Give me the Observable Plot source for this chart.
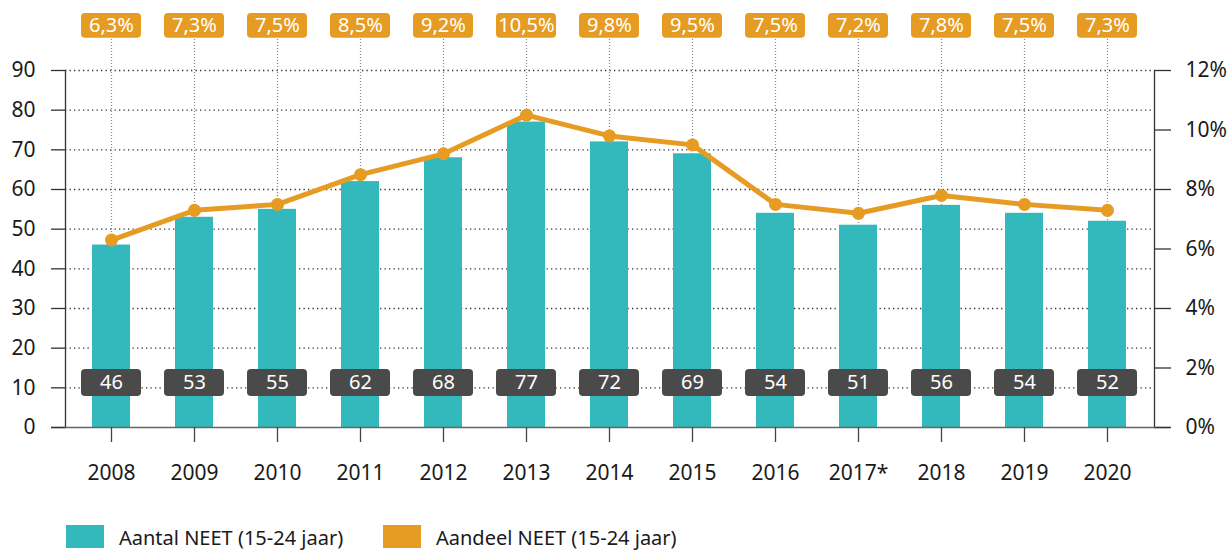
<!DOCTYPE html>
<html>
<head>
<meta charset="utf-8">
<script src="https://cdn.jsdelivr.net/npm/d3@7"></script>
<script src="https://cdn.jsdelivr.net/npm/@observablehq/plot@0.6"></script>
<style>
  html, body { margin: 0; padding: 0; background: #fff; }
  #wrap { position: relative; width: 1227px; height: 554px; overflow: hidden; font-family: "Noto Sans", sans-serif; }
  .sw { position: absolute; width: 38px; height: 23px; }
  .lt { position: absolute; font-size: 20px; color: #1a1a1a; white-space: nowrap; line-height: normal; }
</style>
</head>
<body>
<div id="wrap"></div>
<script>
const years = ["2008","2009","2010","2011","2012","2013","2014","2015","2016","2017*","2018","2019","2020"];
const counts = [46, 53, 55, 62, 68, 77, 72, 69, 54, 51, 56, 54, 52];
const shares = [6.3, 7.3, 7.5, 8.5, 9.2, 10.5, 9.8, 9.5, 7.5, 7.2, 7.8, 7.5, 7.3];
const leftTicks = [0, 10, 20, 30, 40, 50, 60, 70, 80, 90];
const rightTicks = [0, 2, 4, 6, 8, 10, 12];
const seriesNames = ["Aantal NEET (15-24 jaar)", "Aandeel NEET (15-24 jaar)"];

const teal = "#33b8bc";
const orange = "#e69b22";
const dark = "#4a4a4a";
const k = 90 / 12; // share (%) -> left-axis units

const data = years.map((year, i) => ({year, count: counts[i], share: shares[i]}));

const chart = Plot.plot({
  width: 1227,
  height: 505,
  marginTop: 70,
  marginBottom: 78,
  marginLeft: 65,
  marginRight: 73,
  style: {fontFamily: "Noto Sans, sans-serif", color: "#1a1a1a", background: "#fff"},
  x: {type: "band", domain: years, paddingInner: 0.54, paddingOuter: 0.31, label: null},
  y: {domain: [0, 90], label: null},
  marks: [
    Plot.ruleY(leftTicks.filter(d => d > 0), {stroke: "#333", strokeDasharray: "1.3,3.2", strokeWidth: 1.3}),
    Plot.ruleX(data, {x: "year", y1: () => 0, y2: () => 98.1, stroke: "#888", strokeDasharray: "1,2", strokeWidth: 1.2}),
    Plot.barY(data, {x: "year", y: "count", fill: teal}),
    Plot.line(data, {x: "year", y: d => d.share * k, stroke: orange, strokeWidth: 5, strokeLinejoin: "round"}),
    Plot.dot(data, {x: "year", y: d => d.share * k, r: 6.5, fill: orange}),
    Plot.barY(data, {x: "year", y1: () => 98.1, y2: () => 104.4, fill: orange, rx: 4, insetLeft: -11, insetRight: -11}),
    Plot.text(data, {x: "year", y: () => 101.3, text: d => d.share.toFixed(1).replace(".", ",") + "%", fill: "#fff", fontSize: 20}),
    Plot.barY(data, {x: "year", y1: () => 7.8, y2: () => 14.6, fill: dark, rx: 4, insetLeft: -11, insetRight: -11}),
    Plot.text(data, {x: "year", y: () => 11.2, text: d => String(d.count), fill: "#fff", fontSize: 20}),
    Plot.frame({anchor: "left", stroke: "#333", strokeWidth: 1.3}),
    Plot.frame({anchor: "right", stroke: "#333", strokeWidth: 1.3}),
    Plot.ruleY([0], {stroke: "#666", strokeWidth: 1.6, insetLeft: -14, insetRight: -16}),
    Plot.axisY({anchor: "left", ticks: leftTicks, tickSize: 14, tickPadding: 16, fontSize: 21, stroke: "#333", strokeWidth: 1.3, label: null}),
    Plot.axisY({anchor: "right", ticks: rightTicks.map(d => d * k), tickFormat: d => Math.round(d / k) + "%", tickSize: 16, tickPadding: 15, fontSize: 21, stroke: "#333", strokeWidth: 1.3, label: null}),
    Plot.axisX({anchor: "bottom", tickSize: 15, tickPadding: 23, fontSize: 21, stroke: "#444", strokeWidth: 1.3, label: null})
  ]
});

const wrap = document.getElementById("wrap");
wrap.appendChild(chart);

const legendItems = [
  {name: seriesNames[0], color: teal, left: 66},
  {name: seriesNames[1], color: orange, left: 383}
];
for (const it of legendItems) {
  const sw = document.createElement("div");
  sw.className = "sw";
  sw.style.left = it.left + "px";
  sw.style.top = "525px";
  sw.style.background = it.color;
  wrap.appendChild(sw);
  const t = document.createElement("div");
  t.className = "lt";
  t.style.left = (it.left + 53) + "px";
  t.style.top = "524px";
  t.textContent = it.name;
  wrap.appendChild(t);
}
</script>
</body>
</html>
